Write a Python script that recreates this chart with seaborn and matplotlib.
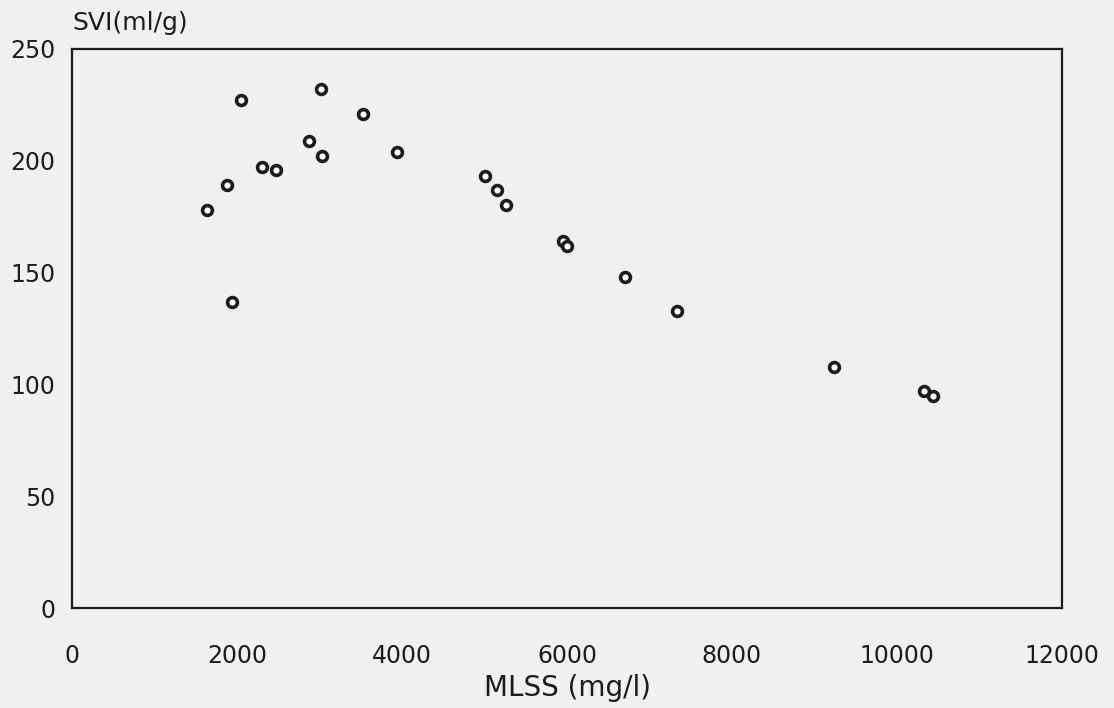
import matplotlib
matplotlib.use("Agg")
import matplotlib.pyplot as plt
import pandas as pd
import seaborn as sns

# ── DATA ──────────────────────────────────────────────────
mlss = [1630, 1870, 2045, 1930, 2300, 2470, 2875, 3010, 3025, 3525, 3935,
        5005, 5155, 5255, 5950, 6000, 6700, 7335, 9240, 10335, 10445]
svi = [178, 189, 227, 137, 197, 196, 209, 232, 202, 221, 204,
       193, 187, 180, 164, 162, 148, 133, 108, 97, 95]

x_ticks = [0, 2000, 4000, 6000, 8000, 10000, 12000]
y_ticks = [0, 50, 100, 150, 200, 250]
y_tick_labels = ["0", "50", "100", "150", "200", "250"]

PAPER = "#f1f0ee"
INK = "#1c1c1c"

df = pd.DataFrame({"MLSS": mlss, "SVI": svi})

sns.set_style("white")
plt.rcParams["font.family"] = ["DejaVu Sans"]

fig = plt.figure(figsize=(11.14, 7.08), dpi=100, facecolor=PAPER)
ax = fig.add_axes([0.065, 0.141, 0.888, 0.79], facecolor=PAPER)

sns.scatterplot(data=df, x="MLSS", y="SVI", ax=ax, s=50, marker="o",
                facecolor="white", edgecolor=INK, linewidth=2.6, zorder=3)

ax.set_xlim(0, 12000)
ax.set_ylim(0, 250)
ax.set_xticks(x_ticks)
ax.set_yticks(y_ticks)
ax.set_yticklabels(y_tick_labels)

for side in ["left", "right", "top", "bottom"]:
    ax.spines[side].set_visible(True)
    ax.spines[side].set_color(INK)
    ax.spines[side].set_linewidth(1.6)

ax.tick_params(axis="x", direction="in", length=10, width=1.3, pad=26,
               labelsize=17, colors=INK)
ax.tick_params(axis="y", direction="in", length=8, width=1.3, pad=12,
               labelsize=17, colors=INK)

ax.set_xlabel("MLSS (mg/l)", fontsize=20, color=INK, labelpad=4)
ax.set_ylabel("")
ax.text(0.0, 1.025, "SVI(ml/g)", transform=ax.transAxes, fontsize=18,
        color=INK, ha="left", va="bottom")

fig.savefig("out.png", dpi=100, facecolor=PAPER)
